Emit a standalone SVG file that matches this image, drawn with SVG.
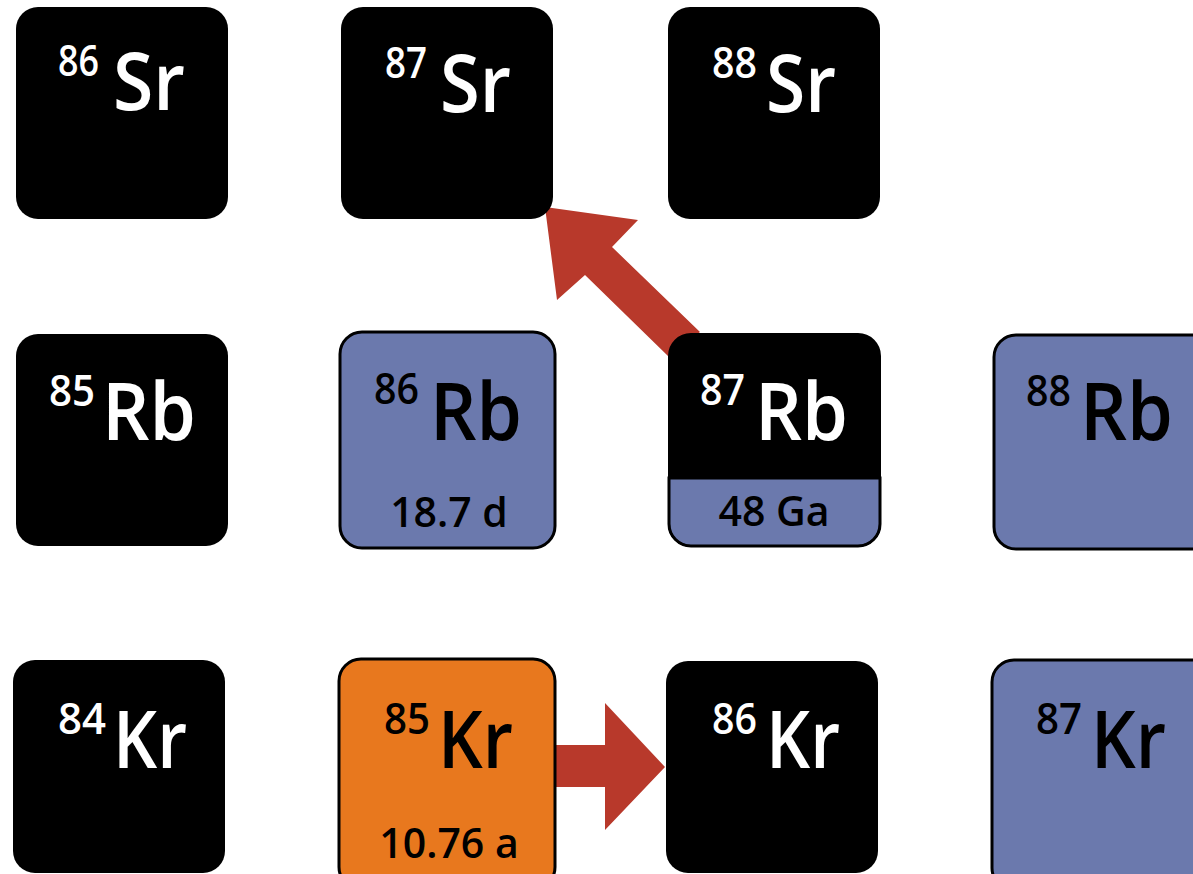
<svg xmlns="http://www.w3.org/2000/svg" width="1193" height="874" viewBox="0 0 1193 874">
  <style>
    .stable { fill: #000; }
    .beta { fill: #6b79ad; stroke: #000; stroke-width: 3; }
    .ec { fill: #e8781e; stroke: #000; stroke-width: 3; }
    .lbl { font-family: "Open Sans", "Liberation Sans", sans-serif; font-weight: 600; }
    .sup { font-size: 43px; }
    .sym { font-size: 80px; }
    .half { font-family: "Open Sans", "Liberation Sans", sans-serif; font-weight: 600; font-size: 41px; text-anchor: middle; fill: #000; }
    .w { fill: #fff; }
    .k { fill: #000; }
    .decay { fill: #b8392b; }
  </style>

  <!-- decay arrows, drawn beneath the nuclide tiles -->
  <g id="connectors">
    <path class="decay" d="M545,207 L638,220 L612,247 L700,332 L668,356 L585,275 L557,300 Z"/>
    <path class="decay" d="M556,745 L605,745 L605,703 L665,767 L605,830 L605,787 L556,787 Z"/>
  </g>

  <!-- strontium row -->
  <g id="sr86">
    <rect class="stable" x="16" y="7" width="212" height="212" rx="22"/>
    <text class="lbl w"><tspan class="sup" x="58" y="76" textLength="41" lengthAdjust="spacingAndGlyphs">86</tspan><tspan class="sym" x="113" y="110" textLength="72" lengthAdjust="spacingAndGlyphs">Sr</tspan></text>
  </g>
  <g id="sr87">
    <rect class="stable" x="341" y="7" width="212" height="212" rx="22"/>
    <text class="lbl w"><tspan class="sup" x="385" y="78" textLength="42" lengthAdjust="spacingAndGlyphs">87</tspan><tspan class="sym" x="440" y="112" textLength="71" lengthAdjust="spacingAndGlyphs">Sr</tspan></text>
  </g>
  <g id="sr88">
    <rect class="stable" x="668" y="7" width="212" height="212" rx="22"/>
    <text class="lbl w"><tspan class="sup" x="712" y="78" textLength="45" lengthAdjust="spacingAndGlyphs">88</tspan><tspan class="sym" x="766" y="112" textLength="70" lengthAdjust="spacingAndGlyphs">Sr</tspan></text>
  </g>

  <!-- rubidium row -->
  <g id="rb85">
    <rect class="stable" x="16" y="334" width="212" height="212" rx="22"/>
    <text class="lbl w"><tspan class="sup" x="49" y="406" textLength="46" lengthAdjust="spacingAndGlyphs">85</tspan><tspan class="sym" x="102" y="440" textLength="94" lengthAdjust="spacingAndGlyphs">Rb</tspan></text>
  </g>
  <g id="rb86">
    <rect class="beta" x="340" y="332" width="215" height="216" rx="22"/>
    <text class="lbl k"><tspan class="sup" x="374" y="404" textLength="45" lengthAdjust="spacingAndGlyphs">86</tspan><tspan class="sym" x="430" y="440" textLength="92" lengthAdjust="spacingAndGlyphs">Rb</tspan></text>
    <text class="half" x="449" y="527">18.7 d</text>
  </g>
  <g id="rb87">
    <rect class="stable" x="669" y="334" width="211" height="212" rx="22"/>
    <path class="beta" d="M669,478 H880 V524 A22,22 0 0 1 858,546 H691 A22,22 0 0 1 669,524 Z" stroke-width="2"/>
    <rect x="669" y="334" width="211" height="212" rx="22" fill="none" stroke="#000" stroke-width="2"/>
    <text class="lbl w"><tspan class="sup" x="700" y="405" textLength="45" lengthAdjust="spacingAndGlyphs">87</tspan><tspan class="sym" x="755" y="440" textLength="93" lengthAdjust="spacingAndGlyphs">Rb</tspan></text>
    <text class="half" x="774" y="526">48 Ga</text>
  </g>
  <g id="rb88">
    <rect class="beta" x="994" y="335" width="230" height="214" rx="22"/>
    <text class="lbl k"><tspan class="sup" x="1026" y="406" textLength="45" lengthAdjust="spacingAndGlyphs">88</tspan><tspan class="sym" x="1080" y="440" textLength="93" lengthAdjust="spacingAndGlyphs">Rb</tspan></text>
  </g>

  <!-- krypton row -->
  <g id="kr84">
    <rect class="stable" x="13" y="660" width="212" height="213" rx="22"/>
    <text class="lbl w"><tspan class="sup" x="58" y="734" textLength="48" lengthAdjust="spacingAndGlyphs">84</tspan><tspan class="sym" x="113" y="768" textLength="74" lengthAdjust="spacingAndGlyphs">Kr</tspan></text>
  </g>
  <g id="kr85">
    <rect class="ec" x="339" y="659" width="216" height="230" rx="22"/>
    <text class="lbl k"><tspan class="sup" x="384" y="734" textLength="46" lengthAdjust="spacingAndGlyphs">85</tspan><tspan class="sym" x="438" y="768" textLength="75" lengthAdjust="spacingAndGlyphs">Kr</tspan></text>
    <text class="half" x="449" y="858">10.76 a</text>
  </g>
  <g id="kr86">
    <rect class="stable" x="666" y="661" width="212" height="212" rx="22"/>
    <text class="lbl w"><tspan class="sup" x="712" y="734" textLength="45" lengthAdjust="spacingAndGlyphs">86</tspan><tspan class="sym" x="766" y="768" textLength="74" lengthAdjust="spacingAndGlyphs">Kr</tspan></text>
  </g>
  <g id="kr87">
    <rect class="beta" x="992" y="660" width="230" height="230" rx="22"/>
    <text class="lbl k"><tspan class="sup" x="1036" y="734" textLength="46" lengthAdjust="spacingAndGlyphs">87</tspan><tspan class="sym" x="1091" y="768" textLength="75" lengthAdjust="spacingAndGlyphs">Kr</tspan></text>
  </g>
</svg>
